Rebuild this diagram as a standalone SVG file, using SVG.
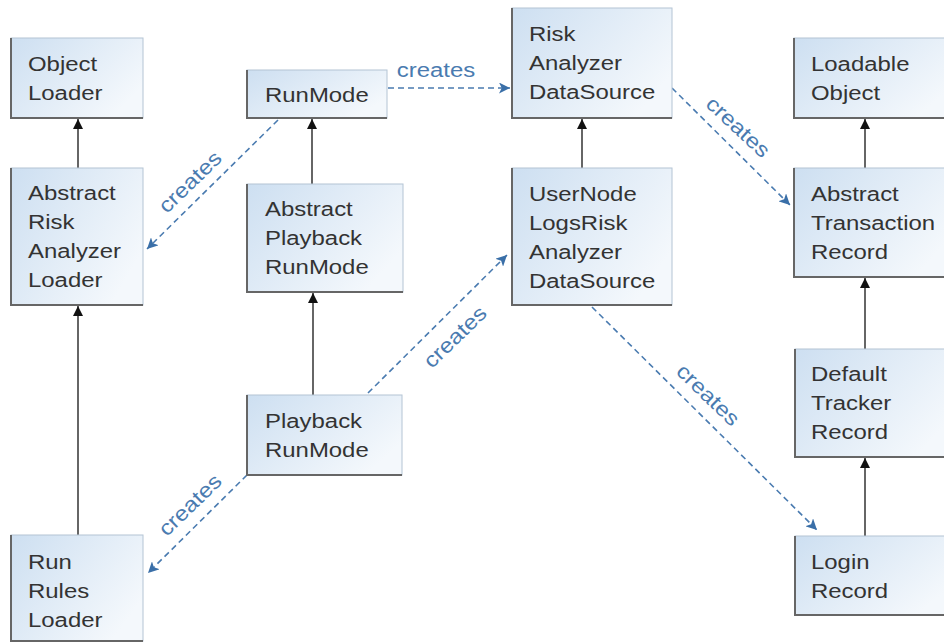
<svg xmlns="http://www.w3.org/2000/svg" width="944" height="643" viewBox="0 0 944 643">
<defs>
<linearGradient id="bg" x1="0" y1="0" x2="1" y2="0.6">
<stop offset="0" stop-color="#cddff1"/>
<stop offset="1" stop-color="#f4f8fc"/>
</linearGradient>
<marker id="ah" viewBox="0 0 10 10" refX="10" refY="5" markerWidth="10" markerHeight="10" markerUnits="userSpaceOnUse" orient="auto">
<path d="M0,0 L10,5 L0,10 z" fill="#111"/>
</marker>
<marker id="bh" viewBox="0 0 10 10" refX="10" refY="5" markerWidth="11" markerHeight="11" markerUnits="userSpaceOnUse" orient="auto">
<path d="M0,0 L10,5 L0,10 L2.5,5 z" fill="#3a6fa8"/>
</marker>
</defs>
<style>
.box{fill:url(#bg);stroke:#b4c4d4;stroke-width:1}
.edge{fill:none;stroke:#666;stroke-width:2}
.t{font-family:"Liberation Sans",Arial,sans-serif;font-size:21px;fill:#333}
.inh{stroke:#666;stroke-width:2;fill:none;marker-end:url(#ah)}
.dep{stroke:#4a7bb0;stroke-width:1.6;stroke-dasharray:6 4;fill:none;marker-end:url(#bh)}
.lbl{font-family:"Liberation Sans",Arial,sans-serif;font-size:21px;fill:#4a7bb0;text-anchor:middle}
</style>

<g id="connectors">
<line class="inh" x1="78" y1="168" x2="78" y2="119"/>
<line class="inh" x1="78" y1="535" x2="78" y2="306"/>
<line class="inh" x1="312" y1="184" x2="312" y2="119"/>
<line class="inh" x1="313" y1="395" x2="313" y2="293"/>
<line class="inh" x1="582" y1="168" x2="582" y2="119"/>
<line class="inh" x1="865" y1="168" x2="865" y2="119"/>
<line class="inh" x1="865" y1="349" x2="865" y2="278"/>
<line class="inh" x1="865" y1="536" x2="865" y2="458"/>

<line class="dep" x1="388" y1="88" x2="510" y2="88"/>
<line class="dep" x1="278" y1="120" x2="147" y2="249"/>
<line class="dep" x1="368" y1="393" x2="507" y2="255"/>
<line class="dep" x1="247" y1="475" x2="148" y2="573"/>
<line class="dep" x1="672" y1="88" x2="790" y2="205"/>
<line class="dep" x1="592" y1="307" x2="817" y2="530"/>

<g transform="translate(436,77) scale(1.14,1)"><text class="lbl" x="0" y="0">creates</text></g>
<g transform="translate(190,182) rotate(-44) scale(1.14,1)"><text class="lbl" x="0" y="7">creates</text></g>
<g transform="translate(455,337) rotate(-44) scale(1.14,1)"><text class="lbl" x="0" y="7">creates</text></g>
<g transform="translate(190,505) rotate(-44) scale(1.14,1)"><text class="lbl" x="0" y="7">creates</text></g>
<g transform="translate(738,127) rotate(43) scale(1.14,1)"><text class="lbl" x="0" y="7">creates</text></g>
<g transform="translate(708,395) rotate(44) scale(1.14,1)"><text class="lbl" x="0" y="7">creates</text></g>
</g>

<g id="objectLoader">
<rect class="box" x="11" y="38" width="132" height="80"/>
<path class="edge" d="M11,38 V118 H143"/>
<g transform="translate(28,0) scale(1.14,1)"><text class="t"><tspan x="0" y="71">Object</tspan><tspan x="0" y="100">Loader</tspan></text></g>
</g>

<g id="abstractRiskAnalyzerLoader">
<rect class="box" x="11" y="168" width="132" height="137"/>
<path class="edge" d="M11,168 V305 H143"/>
<g transform="translate(28,0) scale(1.14,1)"><text class="t"><tspan x="0" y="200">Abstract</tspan><tspan x="0" y="229">Risk</tspan><tspan x="0" y="258">Analyzer</tspan><tspan x="0" y="287">Loader</tspan></text></g>
</g>

<g id="runRulesLoader">
<rect class="box" x="11" y="535" width="132" height="106"/>
<path class="edge" d="M11,535 V641 H143"/>
<g transform="translate(28,0) scale(1.14,1)"><text class="t"><tspan x="0" y="569">Run</tspan><tspan x="0" y="598">Rules</tspan><tspan x="0" y="627">Loader</tspan></text></g>
</g>

<g id="runMode">
<rect class="box" x="247" y="70" width="140" height="48"/>
<path class="edge" d="M247,70 V118 H387"/>
<g transform="translate(265,0) scale(1.14,1)"><text class="t"><tspan x="0" y="102">RunMode</tspan></text></g>
</g>

<g id="abstractPlaybackRunMode">
<rect class="box" x="247" y="184" width="156" height="108"/>
<path class="edge" d="M247,184 V292 H403"/>
<g transform="translate(265,0) scale(1.14,1)"><text class="t"><tspan x="0" y="216">Abstract</tspan><tspan x="0" y="245">Playback</tspan><tspan x="0" y="274">RunMode</tspan></text></g>
</g>

<g id="playbackRunMode">
<rect class="box" x="247" y="395" width="155" height="80"/>
<path class="edge" d="M247,395 V475 H402"/>
<g transform="translate(265,0) scale(1.14,1)"><text class="t"><tspan x="0" y="428">Playback</tspan><tspan x="0" y="457">RunMode</tspan></text></g>
</g>

<g id="riskAnalyzerDataSource">
<rect class="box" x="512" y="8" width="160" height="110"/>
<path class="edge" d="M512,8 V118 H672"/>
<g transform="translate(529,0) scale(1.14,1)"><text class="t"><tspan x="0" y="41">Risk</tspan><tspan x="0" y="70">Analyzer</tspan><tspan x="0" y="99">DataSource</tspan></text></g>
</g>

<g id="userNodeLogsRiskAnalyzerDataSource">
<rect class="box" x="512" y="168" width="160" height="137"/>
<path class="edge" d="M512,168 V305 H672"/>
<g transform="translate(529,0) scale(1.14,1)"><text class="t"><tspan x="0" y="201">UserNode</tspan><tspan x="0" y="230">LogsRisk</tspan><tspan x="0" y="259">Analyzer</tspan><tspan x="0" y="288">DataSource</tspan></text></g>
</g>

<g id="loadableObject">
<rect class="box" x="794" y="38" width="160" height="80"/>
<path class="edge" d="M794,38 V118 H954"/>
<g transform="translate(811,0) scale(1.14,1)"><text class="t"><tspan x="0" y="71">Loadable</tspan><tspan x="0" y="100">Object</tspan></text></g>
</g>

<g id="abstractTransactionRecord">
<rect class="box" x="794" y="168" width="160" height="109"/>
<path class="edge" d="M794,168 V277 H954"/>
<g transform="translate(811,0) scale(1.14,1)"><text class="t"><tspan x="0" y="201">Abstract</tspan><tspan x="0" y="230">Transaction</tspan><tspan x="0" y="259">Record</tspan></text></g>
</g>

<g id="defaultTrackerRecord">
<rect class="box" x="795" y="349" width="160" height="108"/>
<path class="edge" d="M795,349 V457 H955"/>
<g transform="translate(811,0) scale(1.14,1)"><text class="t"><tspan x="0" y="381">Default</tspan><tspan x="0" y="410">Tracker</tspan><tspan x="0" y="439">Record</tspan></text></g>
</g>

<g id="loginRecord">
<rect class="box" x="795" y="536" width="160" height="79"/>
<path class="edge" d="M795,536 V615 H955"/>
<g transform="translate(811,0) scale(1.14,1)"><text class="t"><tspan x="0" y="569">Login</tspan><tspan x="0" y="598">Record</tspan></text></g>
</g>
</svg>
